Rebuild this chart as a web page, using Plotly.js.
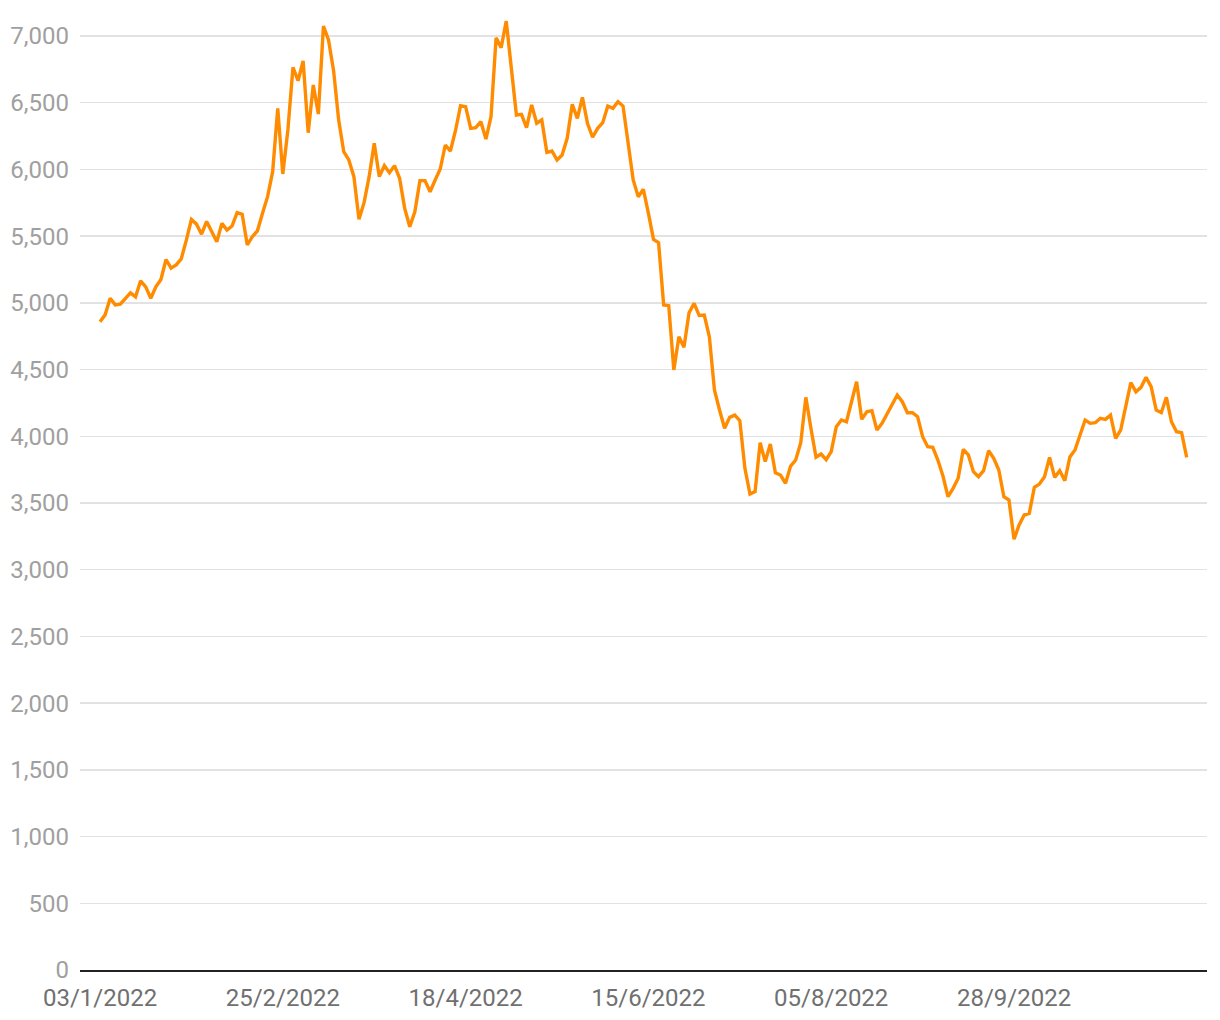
<!DOCTYPE html>
<html>
<head>
<meta charset="utf-8">
<script src="https://cdn.plot.ly/plotly-3.0.1.min.js"></script>
<style>
  html, body { margin: 0; padding: 0; background: #ffffff; }
  #chart { width: 1220px; height: 1020px; }
</style>
</head>
<body>
<div id="chart"></div>
<script>
// Daily closing values (trading days)
const values = [
  4858, 4910, 5035, 4985, 4990, 5030, 5075, 5045, 5165, 5120,
  5035, 5120, 5175, 5325, 5260, 5285, 5330, 5470, 5625, 5590,
  5515, 5610, 5530, 5458, 5596, 5546, 5576, 5676, 5664, 5434,
  5496, 5540, 5671, 5796, 5983, 6458, 5966, 6296, 6765, 6665,
  6813, 6275, 6633, 6415, 7075, 6970, 6740, 6370, 6133, 6071,
  5946, 5626, 5751, 5946, 6196, 5946, 6028, 5976, 6028, 5934,
  5709, 5571, 5683, 5916, 5916, 5833, 5921, 6003, 6183, 6138,
  6290, 6478, 6470, 6308, 6313, 6358, 6228, 6395, 6987, 6912,
  7112, 6750, 6408, 6413, 6313, 6483, 6346, 6371, 6128, 6138,
  6071, 6108, 6233, 6488, 6383, 6540, 6346, 6241, 6308, 6350,
  6475, 6458, 6508, 6475, 6200, 5921, 5796, 5851, 5671, 5476,
  5451, 4984, 4979, 4497, 4746, 4667, 4926, 4996, 4905, 4909,
  4746, 4347, 4197, 4060, 4142, 4159, 4117, 3760, 3567, 3585,
  3952, 3810, 3942, 3727, 3710, 3648, 3777, 3822, 3952, 4292,
  4060, 3843, 3867, 3825, 3885, 4072, 4122, 4109, 4259, 4409,
  4127, 4184, 4192, 4047, 4097, 4172, 4242, 4309, 4259, 4177,
  4177, 4147, 3997, 3922, 3917, 3822, 3702, 3547, 3610, 3685,
  3902, 3860, 3735, 3697, 3742, 3892, 3835, 3747, 3547, 3522,
  3228, 3335, 3410, 3422, 3617, 3642, 3697, 3842, 3692, 3742,
  3667, 3845, 3897, 4010, 4122, 4097, 4102, 4135, 4127, 4159,
  3985, 4047, 4217, 4402, 4334, 4367, 4442, 4372, 4197, 4177,
  4292, 4109, 4034, 4027, 3842
];

// Date labels shown on the horizontal axis (one every 36 trading days)
const tickLabels = ["03/1/2022", "25/2/2022", "18/4/2022", "15/6/2022", "05/8/2022", "28/9/2022"];
const tickStep = 36;

const yTicks = [0, 500, 1000, 1500, 2000, 2500, 3000, 3500, 4000, 4500, 5000, 5500, 6000, 6500, 7000];

const xIndex = values.map((_, i) => i);
const tickVals = tickLabels.map((_, k) => k * tickStep);

const trace = {
  x: xIndex,
  y: values,
  type: 'scatter',
  mode: 'lines',
  line: { color: '#ff8c00', width: 3.4 },
  hoverinfo: 'skip'
};

const layout = {
  width: 1220,
  height: 1020,
  margin: { l: 80, r: 13, t: 20, b: 50 },
  paper_bgcolor: '#ffffff',
  plot_bgcolor: '#ffffff',
  showlegend: false,
  separators: '.,',
  font: { family: 'Roboto, Arial, sans-serif' },
  xaxis: {
    range: [-3.94, 218],
    tickmode: 'array',
    tickvals: tickVals,
    ticktext: tickLabels,
    showgrid: false,
    zeroline: false,
    showline: true,
    linecolor: '#222222',
    linewidth: 2,
    ticks: '',
    ticklabelstandoff: 5,
    tickfont: { family: 'Roboto, Arial, sans-serif', size: 24, color: '#707070' }
  },
  yaxis: {
    range: [0, 7120],
    tickmode: 'array',
    tickvals: yTicks,
    tickformat: ',d',
    showgrid: true,
    gridcolor: '#e2e2e2',
    gridwidth: 1.5,
    zeroline: false,
    showline: false,
    ticks: '',
    ticklabelstandoff: 10,
    tickfont: { family: 'Roboto, Arial, sans-serif', size: 24, color: '#a0a0a0' }
  }
};

Plotly.newPlot('chart', [trace], layout, { staticPlot: true, displayModeBar: false });
</script>
</body>
</html>
